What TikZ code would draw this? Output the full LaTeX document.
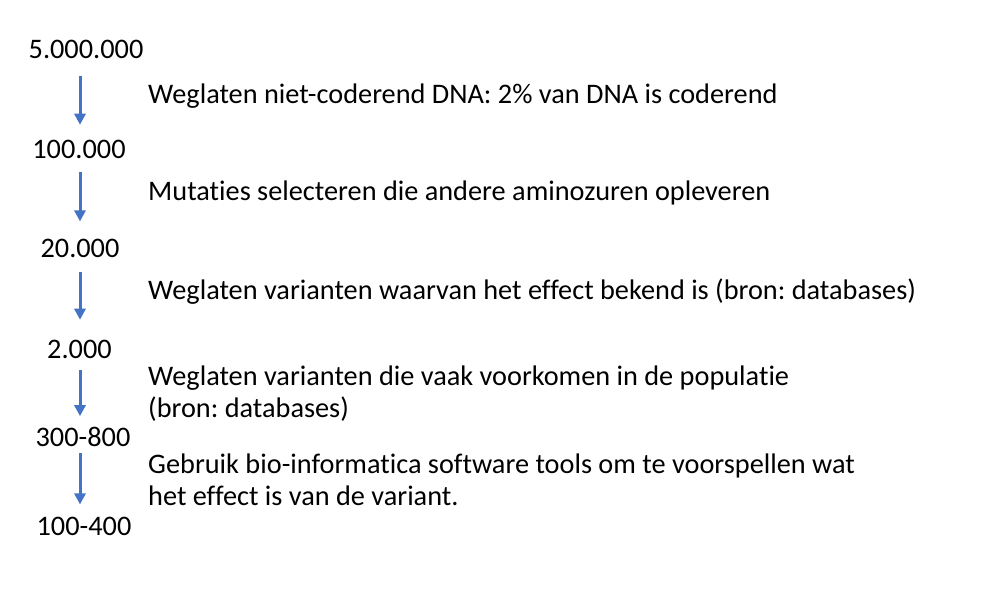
\documentclass[tikz,border=0pt]{standalone}
\usepackage{fontspec}
\setmainfont{Carlito}[Ligatures=NoCommon]
\usetikzlibrary{arrows.meta}
\definecolor{flowblue}{HTML}{4472C4}
\frenchspacing
\tikzset{
  count/.style={anchor=base, inner sep=0pt},
  step text/.style={anchor=base west, inner sep=0pt, align=left},
  flow/.style={draw=flowblue, line width=3pt, -{Triangle[width=11pt,length=11pt]}, flowblue}
}
\begin{document}
\begin{tikzpicture}[x=1pt, y=-1pt, font=\fontsize{28.3}{32}\selectfont]
            \useasboundingbox (0,0) rectangle (1000,601);
            % aantallen varianten
            \node[count] (n1) at (86,58.3) {5.000.000};
            \node[count] (n2) at (79,158.3) {100.000};
            \node[count] (n3) at (80,257.7) {20.000};
            \node[count] (n4) at (79.5,358.3) {2.000};
            \node[count] (n5) at (83,446.7) {300-800};
            \node[count] (n6) at (84,535) {100-400};
            % filterstappen (base = laatste regel)
            \node[step text] (t1) at (148,104) {Weglaten niet-coderend DNA: 2\% van DNA is coderend};
            \node[step text] (t2) at (148,201) {Mutaties selecteren die andere aminozuren opleveren};
            \node[step text] (t3) at (148,299) {Weglaten varianten waarvan het effect bekend is (bron: databases)};
            \node[step text] (t4) at (148,417) {Weglaten varianten die vaak voorkomen in de populatie\\(bron: databases)};
            \node[step text] (t5) at (148,505) {Gebruik bio-informatica software tools om te voorspellen wat\\het effect is van de variant.};
            \coordinate (ax) at (80,0);
            \foreach \a/\b/\s/\e in {n1/n2/17/15, n2/n3/13.7/17.7, n3/n4/14/20, n4/n5/11/11, n5/n6/6/12}
              \draw[flow, shorten <=\s pt, shorten >=\e pt] (\a.south -| ax) -- (\b.north -| ax);
        \end{tikzpicture}
\end{document}
